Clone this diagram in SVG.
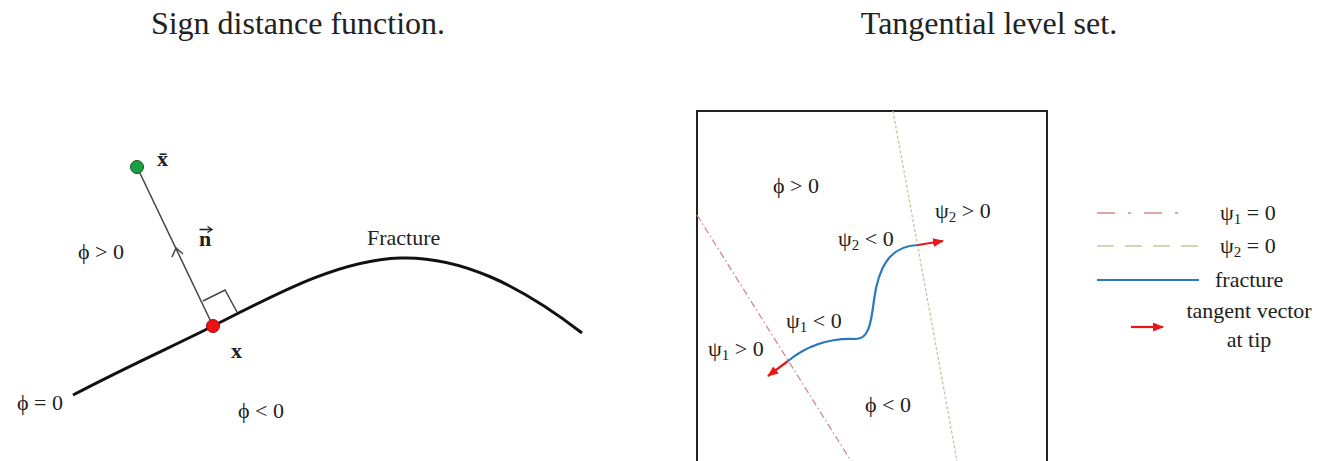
<svg xmlns="http://www.w3.org/2000/svg" width="1337" height="461" viewBox="0 0 1337 461">
<style>
text{font-family:"Liberation Serif","DejaVu Serif",serif;fill:#222;font-size:22px}
.title{font-size:32px;text-anchor:middle}
.b{font-weight:bold}
.sub{font-size:15px}
.curve{fill:none;stroke:#111;stroke-width:3}
.thin{fill:none;stroke:#444;stroke-width:1.5}
.frac{fill:none;stroke:#2a78bd;stroke-width:2.2}
.psi1{fill:none;stroke:#d48a8a;stroke-width:1.3}
.psi2{fill:none;stroke:#bfcb98;stroke-width:1.3}
.tan{fill:none;stroke:#e81818;stroke-width:2.2}
</style>
<defs>
<marker id="ah" markerWidth="11" markerHeight="9" refX="10" refY="4.5" orient="auto" markerUnits="userSpaceOnUse">
<path d="M0,0 L11,4.5 L0,9 Z" fill="#e81818"/>
</marker>
</defs>
<rect width="1337" height="461" fill="#fff"/>
<g id="titles">
<text class="title" x="298" y="34">Sign distance function.</text>
<text class="title" x="989" y="34">Tangential level set.</text>
</g>
<g id="left-panel">
<g id="fracture-curve">
<path class="curve" d="M73,395 C130,365 180,343 213,326 C280,292 340,260 400,258 C460,256 520,285 582,333"/>
<text x="367" y="245">Fracture</text>
</g>
<g id="normal">
<line class="thin" x1="137" y1="167" x2="213" y2="326"/>
<path class="thin" d="M172,257 L176,248 L183,254"/>
<path class="thin" d="M203,301 L225,290 L237,312"/>
<text class="b" x="199" y="246">n</text>
<path d="M199.5,229.5 L211,229.5" stroke="#222" stroke-width="1.6" fill="none"/>
<path d="M207.5,226.5 L212,229.5 L207.5,232.5" stroke="#222" stroke-width="1.4" fill="none"/>
</g>
<g id="point-xbar">
<circle cx="137" cy="167" r="6.5" fill="#1aa043" stroke="#0d5a20" stroke-width="1"/>
<text class="b" x="157" y="166">x&#x0304;</text>
</g>
<g id="point-x">
<circle cx="213" cy="326" r="6.5" fill="#ee1111" stroke="#991010" stroke-width="1"/>
<text class="b" x="231" y="358">x</text>
</g>
<text x="78" y="259">&#x3D5; &gt; 0</text>
<text x="17" y="410">&#x3D5; = 0</text>
<text x="238" y="418">&#x3D5; &lt; 0</text>
</g>
<g id="right-panel">
<rect id="domain" x="697" y="111" width="350" height="370" fill="none" stroke="#222" stroke-width="2"/>
<line class="psi1" x1="697" y1="215" x2="851" y2="461" stroke-dasharray="7,3,1.5,3"/>
<line class="psi2" x1="893" y1="111" x2="957" y2="461" stroke-dasharray="3,2"/>
<g id="fracture">
<path class="frac" d="M788,361 C810,343 835,338 856,339 C868,339 871,325 874,300 C878,270 888,246 918,245"/>
</g>
<g id="connectors">
<line class="tan" x1="788" y1="361" x2="768" y2="376" marker-end="url(#ah)"/>
<line class="tan" x1="918" y1="245" x2="943" y2="241" marker-end="url(#ah)"/>
</g>
<text x="773" y="193">&#x3D5; &gt; 0</text>
<text x="935" y="218">&#x3C8;<tspan class="sub" dy="4">2</tspan><tspan dy="-4"> &gt; 0</tspan></text>
<text x="838" y="246">&#x3C8;<tspan class="sub" dy="4">2</tspan><tspan dy="-4"> &lt; 0</tspan></text>
<text x="786" y="328">&#x3C8;<tspan class="sub" dy="4">1</tspan><tspan dy="-4"> &lt; 0</tspan></text>
<text x="708" y="356">&#x3C8;<tspan class="sub" dy="4">1</tspan><tspan dy="-4"> &gt; 0</tspan></text>
<text x="865" y="412">&#x3D5; &lt; 0</text>
</g>
<g id="legend">
<line class="psi1" x1="1097" y1="213" x2="1190" y2="213" stroke-width="1.8" stroke-dasharray="18,13,3,13"/>
<text x="1220" y="220">&#x3C8;<tspan class="sub" dy="4">1</tspan><tspan dy="-4"> = 0</tspan></text>
<line class="psi2" x1="1097" y1="246" x2="1199" y2="246" stroke-width="1.8" stroke-dasharray="17,11"/>
<text x="1220" y="253">&#x3C8;<tspan class="sub" dy="4">2</tspan><tspan dy="-4"> = 0</tspan></text>
<line class="frac" x1="1097" y1="280" x2="1199" y2="280"/>
<text x="1215" y="287">fracture</text>
<line class="tan" x1="1131" y1="327" x2="1163" y2="327" marker-end="url(#ah)"/>
<text x="1249" y="318" text-anchor="middle">tangent vector</text>
<text x="1249" y="347" text-anchor="middle">at tip</text>
</g>
</svg>
